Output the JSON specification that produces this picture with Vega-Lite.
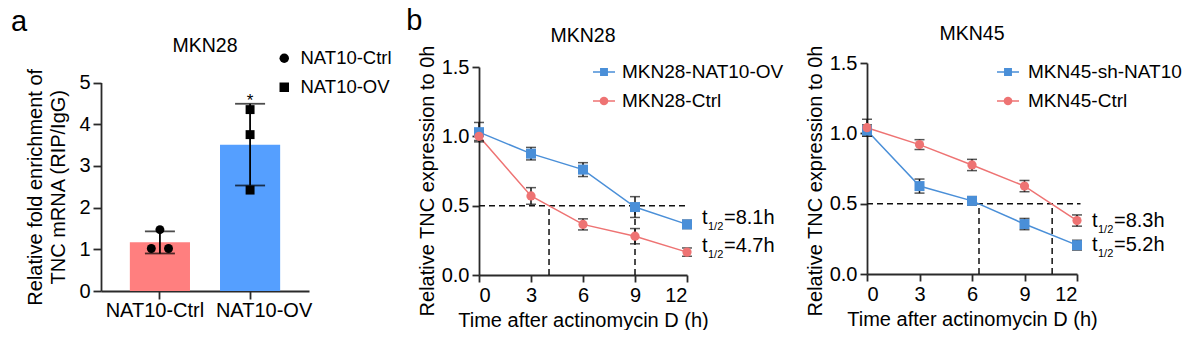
{
  "$schema": "https://vega.github.io/schema/vega-lite/v6.json",
  "padding": {"left": 10, "top": 6, "right": 0, "bottom": 0},
  "config": {
    "font": "Liberation Sans",
    "view": {"stroke": null},
    "axis": {"domainColor": "#2a2a2a", "domainWidth": 1.8, "tickColor": "#2a2a2a", "tickWidth": 1.8, "tickSize": 7, "labelFontSize": 20, "labelColor": "#000", "titleFontSize": 20, "titleFontWeight": "normal", "titleColor": "#000", "grid": false, "labelPadding": 3, "titlePadding": 4, "titleLineHeight": 23, "labelOverlap": false},
    "title": {"fontSize": 19.5, "fontWeight": "normal", "color": "#000", "anchor": "middle"},
    "legend": {"labelFontSize": 19, "labelColor": "#000", "padding": 0, "labelLimit": 400}
  },
  "datasets": {
    "barA": [
      {"group": "NAT10-Ctrl", "mean": 1.17, "lower": 0.90, "upper": 1.43, "sig": ""},
      {"group": "NAT10-OV", "mean": 3.51, "lower": 2.53, "upper": 4.49, "sig": "*"}
    ],
    "ptsA": [
      {"group": "NAT10-Ctrl", "value": 1.02, "jitter": "left"},
      {"group": "NAT10-Ctrl", "value": 1.47, "jitter": "center"},
      {"group": "NAT10-Ctrl", "value": 1.02, "jitter": "right"},
      {"group": "NAT10-OV", "value": 4.35, "jitter": "center"},
      {"group": "NAT10-OV", "value": 3.75, "jitter": "center"},
      {"group": "NAT10-OV", "value": 2.42, "jitter": "center"}
    ],
    "b1": [
      {"group": "MKN28-NAT10-OV", "time": 0, "mean": 1.03, "lower": 0.96, "upper": 1.10},
      {"group": "MKN28-NAT10-OV", "time": 3, "mean": 0.875, "lower": 0.83, "upper": 0.92},
      {"group": "MKN28-NAT10-OV", "time": 6, "mean": 0.76, "lower": 0.71, "upper": 0.81},
      {"group": "MKN28-NAT10-OV", "time": 9, "mean": 0.49, "lower": 0.415, "upper": 0.565},
      {"group": "MKN28-NAT10-OV", "time": 12, "mean": 0.365, "lower": 0.335, "upper": 0.395},
      {"group": "MKN28-Ctrl", "time": 0, "mean": 1.0, "lower": 0.97, "upper": 1.03},
      {"group": "MKN28-Ctrl", "time": 3, "mean": 0.57, "lower": 0.51, "upper": 0.63},
      {"group": "MKN28-Ctrl", "time": 6, "mean": 0.365, "lower": 0.325, "upper": 0.405},
      {"group": "MKN28-Ctrl", "time": 9, "mean": 0.28, "lower": 0.225, "upper": 0.335},
      {"group": "MKN28-Ctrl", "time": 12, "mean": 0.165, "lower": 0.135, "upper": 0.195}
    ],
    "b2": [
      {"group": "MKN45-sh-NAT10", "time": 0, "mean": 1.02, "lower": 0.98, "upper": 1.06},
      {"group": "MKN45-sh-NAT10", "time": 3, "mean": 0.625, "lower": 0.575, "upper": 0.675},
      {"group": "MKN45-sh-NAT10", "time": 6, "mean": 0.52, "lower": 0.49, "upper": 0.55},
      {"group": "MKN45-sh-NAT10", "time": 9, "mean": 0.355, "lower": 0.315, "upper": 0.395},
      {"group": "MKN45-sh-NAT10", "time": 12, "mean": 0.205, "lower": 0.17, "upper": 0.24},
      {"group": "MKN45-Ctrl", "time": 0, "mean": 1.04, "lower": 0.98, "upper": 1.10},
      {"group": "MKN45-Ctrl", "time": 3, "mean": 0.92, "lower": 0.885, "upper": 0.955},
      {"group": "MKN45-Ctrl", "time": 6, "mean": 0.775, "lower": 0.735, "upper": 0.815},
      {"group": "MKN45-Ctrl", "time": 9, "mean": 0.625, "lower": 0.585, "upper": 0.665},
      {"group": "MKN45-Ctrl", "time": 12, "mean": 0.38, "lower": 0.34, "upper": 0.42}
    ],
    "guideB1": [
      {"x": 0, "x_end": 12, "y": 0.5, "y_end": 0.5},
      {"x": 4.04, "x_end": 4.04, "y": 0, "y_end": 0.5},
      {"x": 9, "x_end": 9, "y": 0, "y_end": 0.5}
    ],
    "guideB2": [
      {"x": 0, "x_end": 12.2, "y": 0.5, "y_end": 0.5},
      {"x": 6.4, "x_end": 6.4, "y": 0, "y_end": 0.5},
      {"x": 10.58, "x_end": 10.58, "y": 0, "y_end": 0.5}
    ],
    "noteB1": [
      {"x": 12, "y": 0.365, "label": "=8.1h"},
      {"x": 12, "y": 0.165, "label": "=4.7h"}
    ],
    "noteB2": [
      {"x": 12, "y": 0.38, "label": "=8.3h"},
      {"x": 12, "y": 0.205, "label": "=5.2h"}
    ]
  },
  "columns": 2,
  "align": "none",
  "spacing": 14,
  "resolve": {"scale": {"color": "independent", "shape": "independent"}, "legend": {"color": "independent", "shape": "independent"}},
  "concat": [
    {
      "title": {"text": "a", "fontSize": 29, "anchor": "start", "frame": "bounds", "offset": 0, "dx": -15, "dy": 1.5},
      "columns": 1,
      "align": "none",
      "resolve": {"scale": {"color": "independent", "shape": "independent"}, "legend": {"color": "independent", "shape": "independent"}},
      "concat": [
        {
          "width": 208, "height": 228,
          "title": {"text": "MKN28", "offset": -7},
          "layer": [
            {"data": {"name": "barA"}, "transform": [{"filter": "datum.group === 'NAT10-Ctrl'"}],
             "mark": {"type": "bar", "color": "#FF7F7F"},
             "encoding": {
               "x": {"field": "group", "type": "nominal", "title": null, "scale": {"domain": ["NAT10-Ctrl", "NAT10-OV"], "paddingInner": 0.333, "paddingOuter": 0.32},
                 "axis": {"labelAngle": 0, "labelPadding": 1, "tickSize": 8, "labelOffset": {"condition": {"test": "datum.value === 'NAT10-Ctrl'", "value": -5}, "value": 14}}},
               "y": {"field": "mean", "type": "quantitative", "title": ["Relative fold enrichment of", "TNC mRNA (RIP/IgG)"], "scale": {"domain": [0, 5], "nice": false, "range": [228, 19.5]},
                 "axis": {"values": [0, 1, 2, 3, 4, 5], "tickSize": 8, "titlePadding": 10}}}},
            {"data": {"name": "barA"}, "transform": [{"filter": "datum.group === 'NAT10-OV'"}],
             "mark": {"type": "bar", "color": "#559FFF"},
             "encoding": {
               "x": {"field": "group", "type": "nominal", "title": null},
               "y": {"field": "mean", "type": "quantitative", "title": ["Relative fold enrichment of", "TNC mRNA (RIP/IgG)"]}}},
            {"data": {"name": "barA"}, "mark": {"type": "errorbar", "color": "#000", "thickness": 1.8, "ticks": {"size": 30, "thickness": 1.8, "color": "#000"}},
             "encoding": {
               "x": {"field": "group", "type": "nominal", "title": null},
               "y": {"field": "lower", "type": "quantitative", "title": ["Relative fold enrichment of", "TNC mRNA (RIP/IgG)"]},
               "y2": {"field": "upper"}}},
            {"data": {"name": "barA"}, "mark": {"type": "text", "fontSize": 17, "dy": -3, "baseline": "middle"},
             "encoding": {
               "x": {"field": "group", "type": "nominal", "title": null},
               "y": {"field": "upper", "type": "quantitative", "title": ["Relative fold enrichment of", "TNC mRNA (RIP/IgG)"]},
               "text": {"field": "sig"}}},
            {"data": {"name": "ptsA"}, "transform": [{"filter": "datum.jitter === 'left'"}],
             "mark": {"type": "point", "filled": true, "color": "#000", "opacity": 1, "size": 80, "xOffset": -8.6},
             "encoding": {
               "x": {"field": "group", "type": "nominal", "title": null},
               "y": {"field": "value", "type": "quantitative", "title": ["Relative fold enrichment of", "TNC mRNA (RIP/IgG)"]},
               "shape": {"field": "group", "type": "nominal", "scale": {"domain": ["NAT10-Ctrl", "NAT10-OV"], "range": ["circle", "square"]},
                 "legend": {"orient": "none", "legendX": 174, "legendY": -14, "title": null, "symbolSize": 90, "labelFontSize": 18.5, "rowPadding": 10, "labelOffset": 7, "padding": 0}}}},
            {"data": {"name": "ptsA"}, "transform": [{"filter": "datum.jitter === 'center'"}],
             "mark": {"type": "point", "filled": true, "color": "#000", "opacity": 1, "size": 80},
             "encoding": {
               "x": {"field": "group", "type": "nominal", "title": null},
               "y": {"field": "value", "type": "quantitative", "title": ["Relative fold enrichment of", "TNC mRNA (RIP/IgG)"]},
               "shape": {"field": "group", "type": "nominal",
                 "legend": {"orient": "none", "legendX": 174, "legendY": -14, "title": null, "symbolSize": 90, "labelFontSize": 18.5, "rowPadding": 10, "labelOffset": 7, "padding": 0}}}},
            {"data": {"name": "ptsA"}, "transform": [{"filter": "datum.jitter === 'right'"}],
             "mark": {"type": "point", "filled": true, "color": "#000", "opacity": 1, "size": 80, "xOffset": 8.6},
             "encoding": {
               "x": {"field": "group", "type": "nominal", "title": null},
               "y": {"field": "value", "type": "quantitative", "title": ["Relative fold enrichment of", "TNC mRNA (RIP/IgG)"]},
               "shape": {"field": "group", "type": "nominal",
                 "legend": {"orient": "none", "legendX": 174, "legendY": -14, "title": null, "symbolSize": 90, "labelFontSize": 18.5, "rowPadding": 10, "labelOffset": 7, "padding": 0}}}}
          ]
        }
      ]
    },
    {
      "title": {"text": "b", "fontSize": 29, "anchor": "start", "frame": "bounds", "offset": 0, "dx": -11, "dy": 11.5},
      "columns": 2,
      "align": "none",
      "spacing": 21,
      "resolve": {"scale": {"color": "independent", "shape": "independent"}, "legend": {"color": "independent", "shape": "independent"}},
      "concat": [
        {
          "width": 208, "height": 212,
          "title": {"text": "MKN28", "offset": -2},
          "layer": [
            {"data": {"name": "guideB1"}, "mark": {"type": "rule", "color": "#111", "strokeWidth": 1.5, "strokeDash": [6, 4]},
             "encoding": {
               "x": {"field": "x", "type": "quantitative", "title": "Time after actinomycin D (h)", "scale": {"domain": [0, 12], "nice": false}, "axis": {"values": [0, 3, 6, 9, 12], "titlePadding": 5}},
               "x2": {"field": "x_end"},
               "y": {"field": "y", "type": "quantitative", "title": "Relative TNC expression to 0h", "scale": {"domain": [0, 1.5], "nice": false, "range": [212, 4]}, "axis": {"values": [0, 0.5, 1, 1.5], "format": ".1f", "titleY": 117.5}},
               "y2": {"field": "y_end"}}},
            {"data": {"name": "b1"}, "transform": [{"filter": "datum.group === 'MKN28-NAT10-OV'"}], "mark": {"type": "line", "strokeWidth": 1.5, "color": "#4A8FD8"},
             "encoding": {
               "x": {"field": "time", "type": "quantitative", "title": "Time after actinomycin D (h)"},
               "y": {"field": "mean", "type": "quantitative", "title": "Relative TNC expression to 0h"}}},
            {"data": {"name": "b1"}, "transform": [{"filter": "datum.group === 'MKN28-Ctrl'"}], "mark": {"type": "line", "strokeWidth": 1.5, "color": "#EE7373"},
             "encoding": {
               "x": {"field": "time", "type": "quantitative", "title": "Time after actinomycin D (h)"},
               "y": {"field": "mean", "type": "quantitative", "title": "Relative TNC expression to 0h"}}},
            {"data": {"name": "b1"}, "mark": {"type": "errorbar", "color": "#111", "thickness": 1.5, "ticks": {"size": 10, "thickness": 1.5, "color": "#111"}},
             "encoding": {
               "x": {"field": "time", "type": "quantitative", "title": "Time after actinomycin D (h)"},
               "y": {"field": "lower", "type": "quantitative", "title": "Relative TNC expression to 0h"},
               "y2": {"field": "upper"}}},
            {"data": {"name": "b1"}, "transform": [{"filter": "datum.group === 'MKN28-NAT10-OV'"}],
             "mark": {"type": "point", "shape": "square", "filled": true, "opacity": 1, "size": 100, "color": "#4A8FD8"},
             "encoding": {
               "x": {"field": "time", "type": "quantitative", "title": "Time after actinomycin D (h)"},
               "y": {"field": "mean", "type": "quantitative", "title": "Relative TNC expression to 0h"}}},
            {"data": {"name": "b1"}, "transform": [{"filter": "datum.group === 'MKN28-Ctrl'"}],
             "mark": {"type": "point", "shape": "circle", "filled": true, "opacity": 1, "size": 85, "color": "#EE7373"},
             "encoding": {
               "x": {"field": "time", "type": "quantitative", "title": "Time after actinomycin D (h)"},
               "y": {"field": "mean", "type": "quantitative", "title": "Relative TNC expression to 0h"}}},
            {"data": {"name": "b1"},
             "mark": {"type": "point", "filled": true, "opacity": 0, "size": 484},
             "encoding": {
               "x": {"field": "time", "type": "quantitative", "title": "Time after actinomycin D (h)"},
               "y": {"field": "mean", "type": "quantitative", "title": "Relative TNC expression to 0h"},
               "color": {"field": "group", "type": "nominal", "scale": {"domain": ["MKN28-NAT10-OV", "MKN28-Ctrl"], "range": ["#4A8FD8", "#EE7373"]},
                 "legend": {"orient": "none", "legendX": 113, "legendY": -3, "title": null, "symbolSize": 484, "labelFontSize": 19, "rowPadding": 7, "labelOffset": 6, "padding": 0, "symbolOpacity": 1, "encode": {"symbols": {"update": {"opacity": {"value": 1}}}}}},
               "shape": {"field": "group", "type": "nominal",
                 "scale": {"domain": ["MKN28-NAT10-OV", "MKN28-Ctrl"], "range": ["M-1,-0.07H-0.36V-0.36H0.36V-0.07H1V0.07H0.36V0.36H-0.36V0.07H-1Z", "M-1,-0.07H-0.39A0.4,0.4 0 0 1 0.39,-0.07H1V0.07H0.39A0.4,0.4 0 0 1 -0.39,0.07H-1Z"]},
                 "legend": {"orient": "none", "legendX": 113, "legendY": -3, "title": null, "symbolSize": 484, "labelFontSize": 19, "rowPadding": 7, "labelOffset": 6, "padding": 0, "symbolOpacity": 1, "encode": {"symbols": {"update": {"opacity": {"value": 1}}}}}}}},
            {"data": {"name": "noteB1"}, "mark": {"type": "text", "align": "left", "baseline": "middle", "fontSize": 20, "dx": 15, "dy": -6},
             "encoding": {
               "x": {"field": "x", "type": "quantitative", "title": "Time after actinomycin D (h)"},
               "y": {"field": "y", "type": "quantitative", "title": "Relative TNC expression to 0h"},
               "text": {"value": "t"}}},
            {"data": {"name": "noteB1"}, "mark": {"type": "text", "align": "left", "baseline": "middle", "fontSize": 11, "dx": 21, "dy": 3},
             "encoding": {
               "x": {"field": "x", "type": "quantitative", "title": "Time after actinomycin D (h)"},
               "y": {"field": "y", "type": "quantitative", "title": "Relative TNC expression to 0h"},
               "text": {"value": "1/2"}}},
            {"data": {"name": "noteB1"}, "mark": {"type": "text", "align": "left", "baseline": "middle", "fontSize": 20, "dx": 37, "dy": -6},
             "encoding": {
               "x": {"field": "x", "type": "quantitative", "title": "Time after actinomycin D (h)"},
               "y": {"field": "y", "type": "quantitative", "title": "Relative TNC expression to 0h"},
               "text": {"field": "label"}}}
          ]
        },
        {
          "width": 210, "height": 211,
          "title": {"text": "MKN45", "offset": 0},
          "layer": [
            {"data": {"name": "guideB2"}, "mark": {"type": "rule", "color": "#111", "strokeWidth": 1.5, "strokeDash": [6, 4]},
             "encoding": {
               "x": {"field": "x", "type": "quantitative", "title": "Time after actinomycin D (h)", "scale": {"domain": [0, 12], "nice": false}, "axis": {"values": [0, 3, 6, 9, 12], "titlePadding": 5}},
               "x2": {"field": "x_end"},
               "y": {"field": "y", "type": "quantitative", "title": "Relative TNC expression to 0h", "scale": {"domain": [0, 1.5], "nice": false}, "axis": {"values": [0, 0.5, 1, 1.5], "format": ".1f", "titleY": 117.5}},
               "y2": {"field": "y_end"}}},
            {"data": {"name": "b2"}, "transform": [{"filter": "datum.group === 'MKN45-sh-NAT10'"}], "mark": {"type": "line", "strokeWidth": 1.5, "color": "#4A8FD8"},
             "encoding": {
               "x": {"field": "time", "type": "quantitative", "title": "Time after actinomycin D (h)"},
               "y": {"field": "mean", "type": "quantitative", "title": "Relative TNC expression to 0h"}}},
            {"data": {"name": "b2"}, "transform": [{"filter": "datum.group === 'MKN45-Ctrl'"}], "mark": {"type": "line", "strokeWidth": 1.5, "color": "#EE7373"},
             "encoding": {
               "x": {"field": "time", "type": "quantitative", "title": "Time after actinomycin D (h)"},
               "y": {"field": "mean", "type": "quantitative", "title": "Relative TNC expression to 0h"}}},
            {"data": {"name": "b2"}, "mark": {"type": "errorbar", "color": "#111", "thickness": 1.5, "ticks": {"size": 10, "thickness": 1.5, "color": "#111"}},
             "encoding": {
               "x": {"field": "time", "type": "quantitative", "title": "Time after actinomycin D (h)"},
               "y": {"field": "lower", "type": "quantitative", "title": "Relative TNC expression to 0h"},
               "y2": {"field": "upper"}}},
            {"data": {"name": "b2"}, "transform": [{"filter": "datum.group === 'MKN45-sh-NAT10'"}],
             "mark": {"type": "point", "shape": "square", "filled": true, "opacity": 1, "size": 100, "color": "#4A8FD8"},
             "encoding": {
               "x": {"field": "time", "type": "quantitative", "title": "Time after actinomycin D (h)"},
               "y": {"field": "mean", "type": "quantitative", "title": "Relative TNC expression to 0h"}}},
            {"data": {"name": "b2"}, "transform": [{"filter": "datum.group === 'MKN45-Ctrl'"}],
             "mark": {"type": "point", "shape": "circle", "filled": true, "opacity": 1, "size": 85, "color": "#EE7373"},
             "encoding": {
               "x": {"field": "time", "type": "quantitative", "title": "Time after actinomycin D (h)"},
               "y": {"field": "mean", "type": "quantitative", "title": "Relative TNC expression to 0h"}}},
            {"data": {"name": "b2"},
             "mark": {"type": "point", "filled": true, "opacity": 0, "size": 484},
             "encoding": {
               "x": {"field": "time", "type": "quantitative", "title": "Time after actinomycin D (h)"},
               "y": {"field": "mean", "type": "quantitative", "title": "Relative TNC expression to 0h"},
               "color": {"field": "group", "type": "nominal", "scale": {"domain": ["MKN45-sh-NAT10", "MKN45-Ctrl"], "range": ["#4A8FD8", "#EE7373"]},
                 "legend": {"orient": "none", "legendX": 129, "legendY": -3, "title": null, "symbolSize": 484, "labelFontSize": 19, "rowPadding": 7, "labelOffset": 8, "padding": 0, "symbolOpacity": 1, "encode": {"symbols": {"update": {"opacity": {"value": 1}}}}}},
               "shape": {"field": "group", "type": "nominal",
                 "scale": {"domain": ["MKN45-sh-NAT10", "MKN45-Ctrl"], "range": ["M-1,-0.07H-0.36V-0.36H0.36V-0.07H1V0.07H0.36V0.36H-0.36V0.07H-1Z", "M-1,-0.07H-0.39A0.4,0.4 0 0 1 0.39,-0.07H1V0.07H0.39A0.4,0.4 0 0 1 -0.39,0.07H-1Z"]},
                 "legend": {"orient": "none", "legendX": 129, "legendY": -3, "title": null, "symbolSize": 484, "labelFontSize": 19, "rowPadding": 7, "labelOffset": 8, "padding": 0, "symbolOpacity": 1, "encode": {"symbols": {"update": {"opacity": {"value": 1}}}}}}}},
            {"data": {"name": "noteB2"}, "mark": {"type": "text", "align": "left", "baseline": "middle", "fontSize": 20, "dx": 15, "dy": 0},
             "encoding": {
               "x": {"field": "x", "type": "quantitative", "title": "Time after actinomycin D (h)"},
               "y": {"field": "y", "type": "quantitative", "title": "Relative TNC expression to 0h"},
               "text": {"value": "t"}}},
            {"data": {"name": "noteB2"}, "mark": {"type": "text", "align": "left", "baseline": "middle", "fontSize": 11, "dx": 21, "dy": 9},
             "encoding": {
               "x": {"field": "x", "type": "quantitative", "title": "Time after actinomycin D (h)"},
               "y": {"field": "y", "type": "quantitative", "title": "Relative TNC expression to 0h"},
               "text": {"value": "1/2"}}},
            {"data": {"name": "noteB2"}, "mark": {"type": "text", "align": "left", "baseline": "middle", "fontSize": 20, "dx": 37, "dy": 0},
             "encoding": {
               "x": {"field": "x", "type": "quantitative", "title": "Time after actinomycin D (h)"},
               "y": {"field": "y", "type": "quantitative", "title": "Relative TNC expression to 0h"},
               "text": {"field": "label"}}}
          ]
        }
      ]
    }
  ]
}
